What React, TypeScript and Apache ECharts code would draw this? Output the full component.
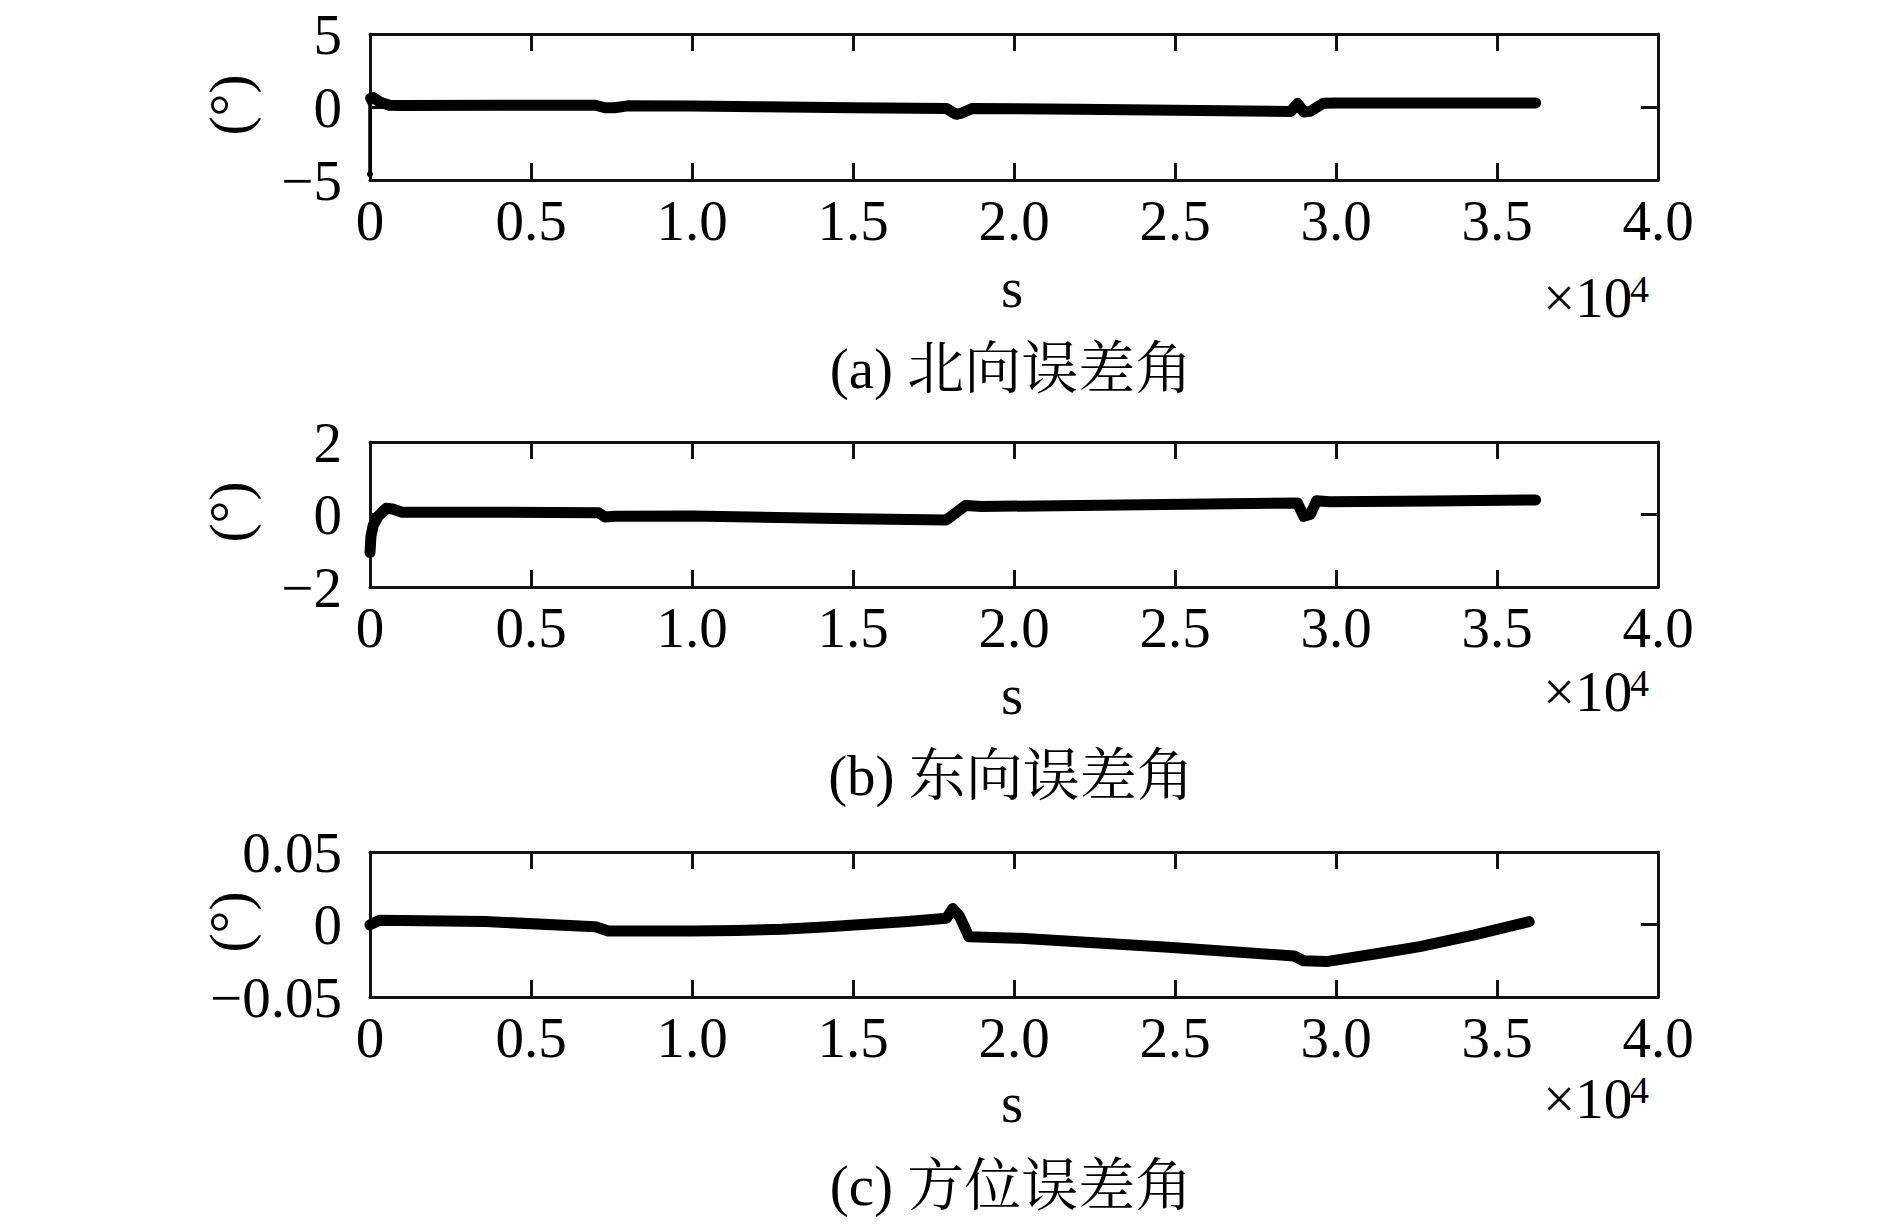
import React, { useEffect, useRef } from "react";
import * as echarts from "echarts";

// time in units of 1e4 s
const timeA = [0.002, 0.01, 0.03, 0.06, 0.1, 0.4, 0.7, 0.73, 0.76, 0.8, 1.0, 1.2, 1.5, 1.79, 1.82, 1.84, 1.87, 2.2, 2.5, 2.86, 2.88, 2.9, 2.92, 2.96, 3.0, 3.3, 3.62];
const northErr = [0.6, 0.65, 0.35, 0.12, 0.1, 0.12, 0.12, -0.05, -0.05, 0.08, 0.06, 0.02, -0.05, -0.1, -0.5, -0.4, -0.1, -0.15, -0.22, -0.3, 0.25, -0.35, -0.3, 0.25, 0.28, 0.28, 0.28];
// initial transient of the north error (thin spike at t = 0)
const spikeTimeA = [0, 0, 0.002];
const spikeNorthErr = [-4.6, 0.3, 0.6];

const timeB = [0, 0.003, 0.01, 0.025, 0.05, 0.07, 0.1, 0.4, 0.71, 0.73, 0.76, 1.0, 1.5, 1.79, 1.85, 1.9, 2.4, 2.88, 2.9, 2.92, 2.94, 2.98, 3.3, 3.62];
const eastErr = [-1.05, -0.6, -0.3, -0.05, 0.17, 0.15, 0.06, 0.06, 0.05, -0.07, -0.05, -0.04, -0.12, -0.15, 0.25, 0.22, 0.27, 0.32, -0.05, 0.0, 0.38, 0.35, 0.37, 0.4];

const timeC = [0, 0.03, 0.36, 0.7, 0.74, 1.0, 1.14, 1.28, 1.41, 1.54, 1.67, 1.79, 1.81, 1.83, 1.86, 2.02, 2.48, 2.87, 2.9, 2.97, 3.13, 3.26, 3.43, 3.6];
const azimuthErr = [-0.0003, 0.003, 0.002, -0.0015, -0.0045, -0.0045, -0.0041, -0.0033, -0.0018, 0.0001, 0.0021, 0.0043, 0.011, 0.006, -0.0084, -0.0095, -0.0157, -0.0217, -0.025, -0.0256, -0.02, -0.0153, -0.0072, 0.002];

const captions = ["(a) 北向误差角", "(b) 东向误差角", "(c) 方位误差角"];
const yRanges = [
  { min: -5, max: 5, interval: 5, digits: 0 },
  { min: -2, max: 2, interval: 2, digits: 0 },
  { min: -0.05, max: 0.05, interval: 0.05, digits: 2 },
];
const xUnitLabel = "s";
const yUnitLabel = "(°)";

const SERIF = "'Liberation Serif', 'Times New Roman', serif";
const CJK = "'Liberation Serif', 'Noto Serif CJK SC', 'Noto Sans CJK SC', serif";

const grids = [
  { left: 370, top: 34, width: 1288, height: 146 },
  { left: 370, top: 442, width: 1288, height: 145 },
  { left: 370, top: 852, width: 1288, height: 145 },
];
const captionY = [368, 775, 1185];
const sY = [287, 694, 1102];
const expY = [297, 691, 1098];
const yNameY = [105, 512, 922];

const zip = (xs: number[], ys: number[]) => xs.map((x, i) => [x, ys[i]]);

export default function App() {
  const ref = useRef<HTMLDivElement>(null);
  useEffect(() => {
    if (!ref.current) return;
    const chart = echarts.init(ref.current, undefined, { renderer: "svg" });
    const axisLine = { onZero: false, lineStyle: { color: "#111", width: 3 } };
    const axisTick = { inside: true, length: 17, lineStyle: { color: "#111", width: 3 } };
    const xAxis: any[] = [];
    const yAxis: any[] = [];
    grids.forEach((_, i) => {
      xAxis.push({
        gridIndex: i, type: "value", min: 0, max: 4, interval: 0.5, position: "bottom",
        axisLine, axisTick, splitLine: { show: false },
        axisLabel: {
          fontSize: 57, fontFamily: SERIF, color: "#000", margin: 12,
          formatter: (v: number) => (v === 0 ? "0" : v.toFixed(1)),
        },
      });
      xAxis.push({
        gridIndex: i, type: "value", min: 0, max: 4, interval: 0.5, position: "top",
        axisLine, axisTick, splitLine: { show: false }, axisLabel: { show: false },
      });
      const r = yRanges[i];
      yAxis.push({
        gridIndex: i, type: "value", min: r.min, max: r.max, interval: r.interval, position: "left",
        axisLine, axisTick, splitLine: { show: false },
        axisLabel: {
          fontSize: 57, fontFamily: SERIF, color: "#000", margin: 28,
          formatter: (v: number) => {
            if (Math.abs(v) < 1e-9) return "0";
            const s = Math.abs(v).toFixed(r.digits);
            return v < 0 ? "\u2212" + s : s;
          },
        },
      });
      yAxis.push({
        gridIndex: i, type: "value", min: r.min, max: r.max, interval: r.interval, position: "right",
        axisLine, axisTick, splitLine: { show: false }, axisLabel: { show: false },
      });
    });
    const datasets = [zip(timeA, northErr), zip(timeB, eastErr), zip(timeC, azimuthErr)];
    const series: any[] = datasets.map((d, i) => ({
      type: "line", xAxisIndex: 2 * i, yAxisIndex: 2 * i, data: d, showSymbol: false,
      lineStyle: { color: "#000", width: 11, cap: "round", join: "round" },
    }));
    series.push({
      type: "line", xAxisIndex: 0, yAxisIndex: 0, data: zip(spikeTimeA, spikeNorthErr),
      symbol: "circle", symbolSize: 6, showSymbol: true,
      itemStyle: { color: "#000" },
      lineStyle: { color: "#000", width: 3.5 },
    });
    const graphic: any[] = [];
    grids.forEach((_, i) => {
      graphic.push({
        type: "text", x: 1011, y: captionY[i],
        style: { text: captions[i], fontSize: 57, fontFamily: CJK, fill: "#000", align: "center", verticalAlign: "middle" },
      });
      graphic.push({
        type: "text", x: 1012, y: sY[i],
        style: { text: xUnitLabel, fontSize: 57, fontFamily: SERIF, fill: "#000", align: "center", verticalAlign: "middle" },
      });
      graphic.push({
        type: "text", x: 1543, y: expY[i],
        style: { text: "×10", fontSize: 57, fontFamily: SERIF, fill: "#000", align: "left", verticalAlign: "middle" },
      });
      graphic.push({
        type: "text", x: 1630, y: expY[i] - 8,
        style: { text: "4", fontSize: 38, fontFamily: SERIF, fill: "#000", align: "left", verticalAlign: "middle" },
      });
      graphic.push({
        type: "text", x: 229, y: yNameY[i], rotation: Math.PI / 2,
        style: { text: yUnitLabel, fontSize: 57, fontFamily: SERIF, fill: "#000", align: "center", verticalAlign: "middle" },
      });
    });
    chart.setOption({
      animation: false,
      backgroundColor: "#fff",
      grid: grids,
      xAxis,
      yAxis,
      series,
      graphic,
    });
    return () => chart.dispose();
  }, []);
  return (
    <div
      ref={ref}
      style={{ position: "fixed", left: 0, top: 0, width: 1890, height: 1228, background: "#fff" }}
    />
  );
}
